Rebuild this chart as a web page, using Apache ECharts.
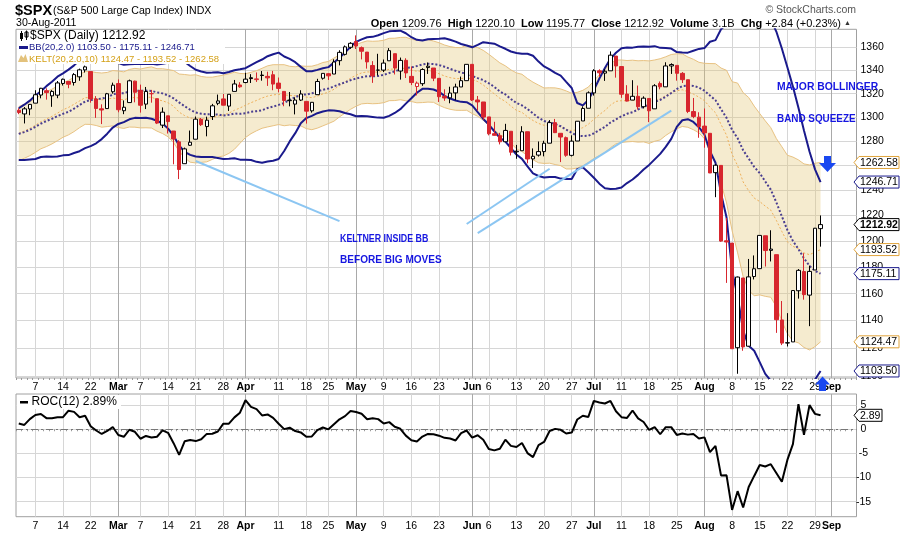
<!DOCTYPE html>
<html><head><meta charset="utf-8">
<script src="https://cdn.jsdelivr.net/npm/echarts@6/dist/echarts.min.js"></script>
<style>html,body{margin:0;padding:0;background:#fff}#c{width:900px;height:534px}</style>
</head><body><div id="c"></div>
<script>
// ---- trading days (month -> day numbers) ----
const febDays=[2,3,4,7,8,9,10,11,14,15,16,17,18,22,23,24,25,28];
const marDays=[1,2,3,4,7,8,9,10,11,14,15,16,17,18,21,22,23,24,25,28,29,30,31];
const aprDays=[1,4,5,6,7,8,11,12,13,14,15,18,19,20,21,25,26,27,28,29];
const mayDays=[2,3,4,5,6,9,10,11,12,13,16,17,18,19,20,23,24,25,26,27,31];
const junDays=[1,2,3,6,7,8,9,10,13,14,15,16,17,20,21,22,23,24,27,28,29,30];
const julDays=[1,5,6,7,8,11,12,13,14,15,18,19,20,21,22,25,26,27,28,29];
const augDays=[1,2,3,4,5,8,9,10,11,12,15,16,17,18,19,22,23,24,25,26,29,30];
const futureDates=['08-31','09-01','09-02','09-06','09-07','09-08'];

// ---- OHLC ----
const open=[1305.9,1302.8,1307.0,1311.9,1318.8,1322.5,1318.1,1318.7,1328.7,1330.4,1329.5,1334.4,1340.4,1338.9,1315.4,1307.1,1307.3,1321.6,
1328.6,1305.5,1312.4,1330.7,1322.7,1311.1,1319.9,1315.7,1293.4,1301.2,1288.5,1279.5,1261.6,1276.7,1281.7,1298.3,1292.2,1300.6,1311.8,1315.5,1309.4,1321.9,1327.4,
1329.5,1333.6,1332.0,1335.9,1334.8,1336.2,1329.0,1321.9,1314.0,1311.1,1314.5,1313.4,1305.4,1319.1,1333.2,1337.1,1336.8,1348.4,1353.9,1360.1,
1365.2,1359.8,1355.9,1344.2,1340.2,1340.2,1348.3,1354.5,1339.4,1348.7,1334.8,1326.1,1328.5,1342.4,1342.0,1333.1,1317.7,1316.4,1320.6,1325.7,1331.1,
1345.2,1314.6,1312.9,1300.3,1286.3,1284.6,1279.6,1288.3,1271.3,1272.2,1287.9,1265.5,1268.6,1271.5,1278.4,1295.5,1286.6,1283.0,1268.4,1280.2,1296.9,1307.6,
1320.6,1339.6,1337.6,1339.6,1352.4,1343.3,1319.6,1314.5,1317.7,1308.9,1315.9,1307.1,1328.7,1325.8,1343.8,1344.3,1337.4,1331.9,1304.8,1300.1,
1292.6,1286.6,1254.3,1260.2,1200.3,1198.5,1120.2,1171.8,1121.3,1172.9,1178.9,1204.2,1192.9,1189.6,1140.5,1123.6,1124.4,1162.2,1176.7,1158.9,1177.9,1209.76];
const high=[1307.6,1308.6,1311.0,1322.9,1324.9,1324.5,1323.0,1330.8,1332.9,1330.4,1337.6,1341.5,1344.1,1338.9,1317.9,1310.9,1320.6,1329.4,
1332.1,1314.2,1332.0,1331.1,1327.7,1325.7,1323.2,1315.7,1308.3,1301.2,1288.5,1280.9,1274.8,1288.9,1300.6,1299.4,1300.5,1311.3,1319.2,1319.7,1319.4,1331.7,1329.8,
1337.9,1336.7,1338.2,1339.4,1338.8,1339.5,1333.8,1321.9,1321.4,1316.8,1322.9,1313.4,1312.7,1332.7,1337.5,1337.6,1349.6,1357.5,1361.7,1364.6,
1370.6,1360.8,1355.9,1348.0,1354.4,1349.4,1359.4,1354.5,1351.1,1350.5,1343.3,1330.4,1341.8,1346.8,1342.0,1333.1,1323.7,1325.9,1328.5,1334.6,1345.2,
1345.2,1318.0,1312.9,1300.3,1296.2,1287.0,1294.5,1288.3,1277.0,1292.5,1287.9,1274.1,1279.8,1280.4,1297.6,1298.6,1286.6,1283.9,1284.9,1296.8,1309.2,1321.9,
1341.0,1340.9,1340.9,1356.5,1352.4,1343.3,1327.2,1331.5,1326.9,1317.7,1315.9,1328.1,1330.4,1347.0,1346.1,1344.3,1338.5,1331.9,1316.3,1304.2,
1307.4,1286.6,1261.2,1260.2,1218.1,1198.5,1172.9,1171.8,1186.3,1189.0,1204.5,1204.2,1208.5,1189.6,1154.5,1145.5,1162.4,1178.6,1190.7,1181.2,1210.3,1220.10];
const low=[1302.6,1294.8,1301.7,1311.9,1316.0,1314.9,1308.8,1316.1,1326.9,1324.6,1326.9,1331.0,1338.1,1312.3,1299.5,1294.3,1307.3,1320.0,
1304.2,1302.6,1312.4,1312.6,1303.9,1306.9,1312.3,1294.3,1291.0,1286.4,1261.1,1249.1,1261.6,1276.2,1281.7,1292.7,1284.1,1297.7,1310.2,1310.1,1305.3,1321.9,1325.0,
1328.9,1329.1,1330.0,1331.1,1326.6,1322.9,1321.1,1309.3,1309.2,1302.4,1313.7,1294.7,1303.9,1319.1,1332.0,1331.7,1336.8,1344.3,1352.9,1358.7,
1358.6,1349.5,1341.5,1329.2,1335.6,1338.6,1348.3,1336.4,1332.0,1333.4,1327.3,1318.5,1326.6,1336.9,1330.7,1312.9,1313.9,1311.8,1314.4,1325.7,1331.1,
1313.7,1305.6,1297.9,1284.9,1284.7,1277.4,1279.6,1268.3,1265.6,1272.2,1261.9,1258.1,1267.4,1267.6,1278.4,1286.8,1262.9,1267.2,1267.5,1280.2,1296.9,1307.6,
1318.3,1334.3,1330.9,1339.6,1333.7,1316.4,1313.3,1314.5,1306.5,1307.4,1295.9,1307.1,1323.7,1325.8,1336.9,1331.1,1329.1,1303.5,1299.2,1282.9,
1274.7,1254.0,1234.6,1199.5,1168.1,1119.3,1101.5,1118.0,1121.3,1170.7,1178.9,1180.5,1184.4,1131.0,1122.1,1121.1,1124.4,1156.3,1155.5,1135.9,1177.9,1195.77];
const close=[1304.03,1307.10,1310.87,1319.05,1324.57,1320.88,1321.87,1329.15,1332.32,1328.01,1336.32,1340.43,1343.01,1315.44,1307.40,1306.10,1319.88,1327.22,
1306.33,1308.44,1330.97,1321.15,1310.13,1321.82,1320.02,1295.11,1304.28,1296.39,1281.87,1256.88,1273.72,1279.21,1298.38,1293.77,1297.54,1309.66,1313.80,1310.19,1319.44,1328.26,1325.83,
1332.41,1332.87,1332.63,1335.54,1333.51,1328.17,1324.46,1314.16,1314.41,1314.52,1319.68,1305.14,1312.62,1330.36,1337.38,1335.25,1347.24,1355.66,1360.48,1363.61,
1361.22,1356.62,1347.32,1335.10,1340.20,1346.29,1357.16,1342.08,1348.65,1337.77,1329.47,1328.98,1340.68,1343.60,1333.27,1317.37,1316.28,1320.47,1325.69,1331.10,1345.20,
1314.55,1312.94,1300.16,1286.17,1284.94,1279.56,1289.00,1270.98,1271.83,1287.87,1265.42,1267.64,1271.50,1278.36,1295.52,1287.14,1283.50,1268.45,1280.10,1296.67,1307.41,1320.64,
1339.67,1337.88,1339.22,1353.22,1343.80,1319.49,1313.64,1317.72,1308.87,1316.14,1305.44,1326.73,1325.84,1343.80,1345.02,1337.43,1331.94,1304.89,1300.67,1292.28,
1286.94,1254.05,1260.34,1200.07,1199.38,1119.46,1172.53,1120.76,1172.64,1178.81,1204.49,1192.76,1193.89,1140.65,1123.53,1123.82,1162.35,1177.60,1159.27,1176.80,1210.08,1212.92];

// ---- Bollinger Bands (20,2.0) ----
const bbUp=[1307.6,1310.6,1314.0,1318.4,1322.1,1326.4,1330.2,1334.5,1337.4,1340.6,
1344.3,1348.8,1352.3,1353.0,1352.3,1349.8,1347.3,1347.4,1346.4,1344.9,
1345.3,1345.5,1345.4,1345.6,1345.8,1345.1,1345.7,1346.5,1347.5,1348.5,
1347.3,1343.8,1340.5,1339.0,1338.0,1338.1,1338.3,1337.5,1338.6,1340.1,
1340.9,1341.9,1344.6,1347.1,1349.4,1352.3,1354.0,1355.4,1352.0,1349.9,
1347.1,1343.0,1339.3,1339.2,1340.4,1341.8,1342.8,1346.7,1351.0,1355.6,
1360.5,1364.9,1367.1,1368.9,1369.3,1370.7,1372.6,1374.2,1374.6,1374.8,
1372.5,1369.0,1366.7,1366.1,1367.2,1367.5,1367.6,1368.1,1366.8,1365.1,
1363.0,1361.7,1360.1,1362.3,1364.6,1363.9,1363.3,1360.9,1358.8,1356.4,
1355.1,1354.5,1354.4,1352.7,1347.6,1343.4,1340.8,1337.8,1335.5,1330.1,
1324.8,1312.0,1310.0,1314.6,1323.0,1333.0,1342.0,1350.0,1355.3,1359.3,
1359.9,1359.8,1360.5,1360.9,1360.6,1361.1,1359.6,1359.4,1359.0,1355.9,
1355.5,1355.4,1357.1,1358.7,1359.4,1365.0,1366.4,1376.0,1380.5,1401.7,
1407.0,1412.6,1410.0,1400.0,1398.0,1393.0,1384.6,1374.0,1359.0,1342.6,
1326.0,1308.0,1289.0,1271.6,1257.0,1246.71];
const bbMid=[1286.1,1287.6,1289.5,1291.9,1294.6,1296.9,1298.7,1301.0,1302.9,1304.6,
1307.3,1310.3,1313.3,1314.5,1315.3,1315.8,1316.8,1319.4,1320.4,1320.4,
1321.8,1322.5,1322.4,1322.6,1322.3,1321.1,1320.2,1318.5,1316.0,1312.5,
1309.3,1306.3,1304.0,1303.0,1302.5,1302.6,1302.3,1301.5,1302.1,1303.1,
1302.9,1303.4,1304.6,1305.1,1305.9,1307.8,1309.0,1310.4,1312.0,1314.9,
1316.9,1319.0,1319.3,1320.2,1321.9,1323.3,1324.3,1326.2,1328.0,1329.6,
1331.5,1332.9,1334.1,1334.9,1334.8,1335.2,1336.1,1337.7,1339.1,1340.8,
1342.0,1342.5,1343.7,1345.1,1345.7,1345.5,1344.6,1343.1,1341.3,1339.6,
1338.0,1337.2,1335.1,1333.3,1331.6,1328.9,1325.8,1321.9,1319.3,1315.4,
1312.1,1310.0,1306.9,1303.2,1299.6,1296.9,1295.8,1294.3,1292.5,1289.6,
1287.0,1284.6,1284.3,1284.6,1286.6,1289.2,1291.9,1295.6,1298.3,1300.8,
1302.9,1304.3,1306.5,1308.9,1310.6,1313.1,1314.6,1317.4,1320.5,1323.9,
1326.5,1326.9,1326.6,1325.2,1322.5,1318.4,1314.4,1306.8,1299.5,1289.5,
1282.5,1272.6,1265.8,1259.0,1253.9,1247.2,1240.6,1230.5,1219.4,1208.7,
1200.2,1193.9,1186.8,1181.0,1177.2,1175.11];
const bbLow=[1264.6,1264.6,1265.0,1265.4,1267.1,1267.4,1267.2,1267.5,1268.4,1268.6,
1270.3,1271.8,1274.3,1276.0,1278.3,1281.8,1286.3,1291.4,1294.4,1295.9,
1298.3,1299.5,1299.4,1299.6,1298.8,1297.1,1294.7,1290.5,1284.5,1276.5,
1271.3,1268.8,1267.5,1267.0,1267.0,1267.1,1266.3,1265.5,1265.6,1266.1,
1264.9,1264.9,1264.6,1263.1,1262.4,1263.3,1264.0,1265.4,1272.0,1279.9,
1286.7,1295.0,1299.3,1301.2,1303.4,1304.8,1305.8,1305.7,1305.0,1303.6,
1302.5,1300.9,1301.1,1300.9,1300.3,1299.7,1299.6,1301.2,1303.6,1306.8,
1311.5,1316.0,1320.7,1324.1,1324.2,1323.5,1321.6,1318.1,1315.8,1314.1,
1313.0,1312.7,1310.1,1304.3,1298.6,1293.9,1288.3,1282.9,1279.8,1274.4,
1269.1,1265.5,1259.4,1253.7,1251.6,1250.4,1250.8,1250.8,1249.5,1249.1,
1249.2,1257.2,1258.6,1254.6,1250.2,1245.4,1241.8,1241.2,1241.3,1242.3,
1245.9,1248.8,1252.5,1256.9,1260.6,1265.1,1269.6,1275.4,1282.0,1291.9,
1297.5,1298.4,1296.1,1291.7,1285.6,1271.8,1262.4,1237.6,1218.5,1177.3,
1158.0,1132.6,1121.6,1118.0,1109.8,1101.4,1096.6,1087.0,1079.8,1074.8,
1074.4,1079.8,1084.6,1090.4,1097.4,1103.50];

// ---- Keltner Channels (20,2.0,10) ----
const kcUp=[1309.0,1311.0,1313.1,1315.8,1318.8,1321.6,1323.8,1326.5,1329.3,1331.3,
1334.0,1336.3,1339.1,1339.0,1338.1,1337.7,1338.2,1339.8,1339.4,1338.7,
1340.8,1341.7,1341.1,1342.2,1343.0,1341.4,1341.4,1340.7,1339.8,1336.8,
1336.4,1335.8,1336.2,1334.7,1334.1,1334.1,1335.0,1335.9,1337.0,1338.4,
1337.3,1337.1,1338.3,1339.7,1341.8,1343.9,1344.9,1344.9,1344.9,1343.5,
1343.1,1343.8,1343.5,1343.6,1344.9,1346.8,1347.7,1350.7,1353.3,1356.5,
1359.7,1362.3,1364.3,1365.7,1365.4,1365.6,1366.3,1368.0,1368.1,1368.8,
1368.9,1367.3,1366.2,1366.4,1366.8,1365.6,1364.1,1362.1,1360.7,1359.9,
1359.8,1361.9,1361.1,1359.8,1357.4,1354.0,1350.3,1346.5,1343.9,1340.4,
1337.8,1336.6,1332.9,1329.8,1327.3,1324.8,1325.0,1324.9,1324.0,1322.3,
1320.3,1321.1,1322.8,1325.6,1330.9,1336.2,1340.7,1345.7,1348.9,1349.0,
1348.5,1348.8,1348.3,1348.5,1348.2,1349.0,1350.1,1351.8,1353.8,1354.4,
1354.3,1351.6,1349.6,1347.0,1346.1,1345.9,1345.8,1342.0,1340.0,1330.2,
1329.0,1320.8,1316.7,1309.4,1303.1,1297.0,1291.3,1282.3,1275.5,1268.5,
1267.0,1264.7,1261.4,1260.6,1262.0,1262.58];
const kcMid=[1286.5,1288.5,1290.6,1293.3,1296.3,1298.6,1300.8,1303.5,1306.3,1308.3,
1311.0,1313.8,1316.6,1316.5,1315.6,1314.7,1315.2,1316.3,1315.4,1314.7,
1316.3,1316.7,1316.1,1316.7,1317.0,1314.9,1313.9,1312.2,1309.3,1304.3,
1301.4,1299.3,1299.2,1298.7,1298.6,1299.6,1301.0,1301.9,1303.5,1305.9,
1307.8,1310.1,1312.3,1314.2,1316.3,1317.9,1318.9,1319.4,1318.9,1318.5,
1318.1,1318.3,1317.0,1316.6,1317.9,1319.8,1321.2,1323.7,1326.8,1330.0,
1333.2,1335.8,1337.8,1338.7,1338.4,1338.6,1339.3,1341.0,1341.1,1341.8,
1341.4,1340.3,1339.2,1339.4,1339.8,1339.1,1337.1,1335.1,1333.7,1332.9,
1332.8,1333.9,1332.1,1330.3,1327.4,1323.5,1319.8,1316.0,1313.4,1309.4,
1305.8,1304.1,1300.4,1297.3,1294.8,1293.3,1293.5,1292.9,1292.0,1289.8,
1288.8,1289.6,1291.3,1294.1,1298.4,1302.2,1305.7,1310.2,1313.4,1314.0,
1314.0,1314.3,1313.8,1314.0,1313.2,1314.5,1315.6,1318.3,1320.8,1322.4,
1323.3,1321.6,1319.6,1317.0,1314.1,1308.4,1303.8,1294.0,1285.0,1269.2,
1260.0,1246.8,1239.7,1233.9,1231.1,1227.5,1224.3,1216.3,1207.5,1199.5,
1196.0,1194.2,1190.9,1189.6,1191.5,1193.52];
const kcLow=[1264.0,1266.0,1268.1,1270.8,1273.8,1275.6,1277.8,1280.5,1283.3,1285.3,
1288.0,1291.3,1294.1,1294.0,1293.1,1291.7,1292.2,1292.8,1291.4,1290.7,
1291.8,1291.7,1291.1,1291.2,1291.0,1288.4,1286.4,1283.7,1278.8,1271.8,
1266.4,1262.8,1262.2,1262.7,1263.1,1265.1,1267.0,1267.9,1270.0,1273.4,
1278.3,1283.1,1286.3,1288.7,1290.8,1291.9,1292.9,1293.9,1292.9,1293.5,
1293.1,1292.8,1290.5,1289.6,1290.9,1292.8,1294.7,1296.7,1300.3,1303.5,
1306.7,1309.3,1311.3,1311.7,1311.4,1311.6,1312.3,1314.0,1314.1,1314.8,
1313.9,1313.3,1312.2,1312.4,1312.8,1312.6,1310.1,1308.1,1306.7,1305.9,
1305.8,1305.9,1303.1,1300.8,1297.4,1293.0,1289.3,1285.5,1282.9,1278.4,
1273.8,1271.6,1267.9,1264.8,1262.3,1261.8,1262.0,1260.9,1260.0,1257.3,
1257.3,1258.1,1259.8,1262.6,1265.9,1268.2,1270.7,1274.7,1277.9,1279.0,
1279.5,1279.8,1279.3,1279.5,1278.2,1280.0,1281.1,1284.8,1287.8,1290.4,
1292.3,1291.6,1289.6,1287.0,1282.1,1270.9,1261.8,1246.0,1230.0,1208.2,
1191.0,1172.8,1162.7,1158.4,1159.1,1158.0,1157.3,1150.3,1139.5,1130.5,
1125.0,1123.7,1120.4,1118.6,1121.0,1124.47];

// ---- ROC(12) ----
const roc=[1.2,0.9,2.1,2.95,3.15,2.3,2.3,2.5,2.5,3.85,3.6,2.5,2.8,
0.64,-0.26,-0.98,-0.35,0.48,-1.18,-1.56,-0.10,-0.52,-1.96,-1.39,-1.71,-1.55,-0.24,-0.74,-2.88,-5.30,-2.50,-2.23,-2.45,-2.07,-0.96,-0.92,-0.47,1.16,1.16,2.46,3.43,
6.01,4.64,4.18,2.86,3.07,2.36,1.13,0.03,0.32,-0.37,-0.65,-1.56,-1.49,-0.19,0.36,-0.02,1.03,2.07,2.72,3.76,
3.56,3.20,2.09,2.30,2.10,1.20,1.48,0.51,0.10,-1.32,-2.28,-2.54,-1.51,-0.96,-1.04,-1.33,-1.78,-1.92,-2.32,-0.82,-0.26,
-1.74,-1.24,-2.17,-4.07,-4.37,-4.03,-2.15,-3.44,-3.68,-2.85,-4.93,-5.77,-3.27,-2.63,-0.36,0.08,-0.11,-0.87,-0.69,2.02,2.80,2.54,
5.87,5.54,5.33,5.86,3.73,2.51,2.35,3.88,2.25,1.50,-0.15,0.46,-1.03,0.44,0.43,-1.17,-0.88,-1.11,-0.99,-1.93,
-1.68,-4.72,-3.45,-9.55,-9.54,-16.70,-12.82,-16.20,-11.96,-9.66,-7.39,-7.70,-7.23,-9.04,-10.85,-6.35,-3.09,5.19,-1.13,5.00,3.19,2.89];

// ---- axis ticks ----
const tickDates=['02-07','02-14','02-22','03-01','03-07','03-14','03-21','03-28','04-01','04-11','04-18','04-25','05-02','05-09','05-16','05-23','06-01','06-06','06-13','06-20','06-27','07-01','07-11','07-18','07-25','08-01','08-08','08-15','08-22','08-29','09-01'];
const tickTexts=['7','14','22','Mar','7','14','21','28','Apr','11','18','25','May','9','16','23','Jun','6','13','20','27','Jul','11','18','25','Aug','8','15','22','29','Sep'];
const monthNames=['Mar','Apr','May','Jun','Jul','Aug','Sep'];
const priceTicks=[1100,1120,1140,1160,1180,1200,1220,1240,1260,1280,1300,1320,1340,1360];
const rocTicks=[5,0,-5,-10,-15];
// annotation trendlines: [startIndex, startValue, endIndex, endValue]
const annoLines=[[32,1263.8,58,1215.7],[81,1213.4,96,1257.5],[83,1206.3,118,1305.6]];
const volumeText='3.1B', dateText='30-Aug-2011';

// ---- build ----
const pad=n=>(n<10?'0':'')+n;
const dates=[];
[[2,febDays],[3,marDays],[4,aprDays],[5,mayDays],[6,junDays],[7,julDays],[8,augDays]].forEach(([m,ds])=>ds.forEach(d=>dates.push(pad(m)+'-'+pad(d))));
const cats=dates.concat(futureDates);
const labelMap={}; tickDates.forEach((d,i)=>labelMap[d]=tickTexts[i]);
const monthSet=new Set(monthNames);

const F="'Liberation Sans', Arial, Helvetica, sans-serif";
const RED='#d7262e', NAVY='#1a1a8c', NAVYDOT='#4a3e90', KCLINE='#e8c282', KCFILL='rgba(228,198,120,0.5)', KCMID='#efb05a';
const GRID='#d6d6d6', MGRID='#a9a9a9', LBLUE='#8cc6f2', ABLUE='#1616e0', ARROW='#1a48f0';

const candleData=close.map((c,i)=>{
  const prev=i?close[i-1]:open[0];
  const col=c>=prev?'#000':RED;
  const up=c>=open[i];
  const fill=up?'#ffffff':col;
  return {value:[open[i],c,low[i],high[i]],itemStyle:{color:fill,color0:fill,borderColor:col,borderColor0:col}};
});
const kcDiff=kcUp.map((u,i)=>+(u-kcLow[i]).toFixed(3));

const xLabel={interval:(i,v)=>labelMap[v]!==undefined,
  formatter:v=>{const t=labelMap[v]; if(t===undefined) return ''; return monthSet.has(t)?'{m|'+t+'}':t;},
  color:'#000',fontSize:10.5,fontFamily:F,margin:4,
  rich:{m:{fontWeight:'bold',fontSize:10.5,fontFamily:F,color:'#000'}}};
const vLines=tickDates.map(d=>({xAxis:d,lineStyle:{color:monthSet.has(labelMap[d])?MGRID:GRID,width:1,type:'solid'}}));

const chart=echarts.init(document.getElementById('c'),null,{renderer:'canvas',width:900,height:534});
const option={
  animation:false, backgroundColor:'#fff', textStyle:{fontFamily:F},
  grid:[
    {left:16,top:29.3,width:840.5,height:348.7,show:true,borderColor:'#a0a0a0',borderWidth:1,backgroundColor:'rgba(0,0,0,0)'},
    {left:16,top:394,width:840.5,height:122.7,show:true,borderColor:'#a0a0a0',borderWidth:1,backgroundColor:'rgba(0,0,0,0)'}
  ],
  xAxis:[
    {type:'category',gridIndex:0,data:cats,boundaryGap:true,axisLine:{show:false},
     axisTick:{show:true,interval:0,length:2,lineStyle:{color:'#9a9a9a'}},splitLine:{show:false},axisLabel:xLabel},
    {type:'category',gridIndex:1,data:cats,boundaryGap:true,axisLine:{show:false},
     axisTick:{show:true,interval:0,length:2,lineStyle:{color:'#9a9a9a'}},splitLine:{show:false},axisLabel:xLabel}
  ],
  yAxis:[
    {type:'log',logBase:10,gridIndex:0,min:1098.5,max:1376,position:'right',
     axisLine:{show:false},axisTick:{show:false},axisLabel:{show:false},splitLine:{show:false}},
    {type:'value',gridIndex:1,min:-18.1,max:7.3,position:'right',axisLine:{show:false},
     axisTick:{show:false,customValues:rocTicks},
     axisLabel:{customValues:rocTicks,align:'center',margin:7,color:'#000',fontSize:10.5,fontFamily:F},
     splitLine:{show:true,lineStyle:{color:GRID,width:1}}}
  ],
  series:[
    {name:'kcLow',type:'line',xAxisIndex:0,yAxisIndex:0,data:kcLow,stack:'kc',symbol:'none',silent:true,
     lineStyle:{color:KCLINE,width:1},z:2,
     markLine:{silent:true,symbol:'none',z:1,animation:false,label:{show:false},
       lineStyle:{color:GRID,width:1,type:'solid'},
       data:priceTicks.map(v=>({yAxis:v,label:{show:true,position:'end',formatter:String(v),color:'#000',fontSize:10.5,fontFamily:F,distance:4}})).concat(vLines)}},
    {name:'kcBand',type:'line',xAxisIndex:0,yAxisIndex:0,data:kcDiff,stack:'kc',symbol:'none',silent:true,
     lineStyle:{color:KCLINE,width:1},areaStyle:{color:KCFILL},z:2},
    {name:'kcMid',type:'line',xAxisIndex:0,yAxisIndex:0,data:kcMid,symbol:'none',silent:true,
     lineStyle:{color:KCMID,width:1,type:[2,2]},z:3},
    {name:'bbUp',type:'line',xAxisIndex:0,yAxisIndex:0,data:bbUp,symbol:'none',silent:true,lineStyle:{color:NAVY,width:2},z:4},
    {name:'bbLow',type:'line',xAxisIndex:0,yAxisIndex:0,data:bbLow,symbol:'none',silent:true,lineStyle:{color:NAVY,width:2},z:4},
    {name:'bbMid',type:'line',xAxisIndex:0,yAxisIndex:0,data:bbMid,symbol:'none',silent:true,lineStyle:{color:NAVYDOT,width:2,type:[2,2]},z:4},
    {name:'SPX',type:'candlestick',xAxisIndex:0,yAxisIndex:0,data:candleData,barWidth:4,silent:true,z:5,
     markLine:{silent:true,symbol:'none',z:8,animation:false,label:{show:false},lineStyle:{color:LBLUE,width:2,type:'solid'},
       data:annoLines.map(a=>[{coord:[a[0],a[1]]},{coord:[a[2],a[3]]}])}},
    {name:'ROC',type:'line',xAxisIndex:1,yAxisIndex:1,data:roc,symbol:'none',silent:true,lineStyle:{color:'#000',width:2},z:3,
     markLine:{silent:true,symbol:'none',z:1,animation:false,label:{show:false},lineStyle:{color:GRID,width:1,type:'solid'},
       data:vLines.concat([{yAxis:0,lineStyle:{color:'#777',width:1,type:[7,3,2,3]}}])}}
  ]
};
chart.setOption(option);

// ---- overlays (header, legends, annotations, value tags) ----
const n=close.length;
const last=a=>a[a.length-1];
const chg=close[n-1]-close[n-2];
const pct=chg/close[n-2]*100;
const f2=v=>v.toFixed(2);
const T=(x,y,text,font,fill,extra)=>Object.assign({type:'text',x:x,y:y,z:100,silent:true,style:{text:text,font:font,fill:fill||'#000',verticalAlign:'middle',align:'left'}},extra||{});
const g=[];
g.push(T(15,11,'$SPX','bold 14.5px '+F,'#000'));
g.push(T(53,11.5,'(S&P 500 Large Cap Index) INDX','10.6px '+F,'#000'));
g.push(T(16,23.5,dateText,'10.6px '+F,'#000'));
g.push(T(856,10,'\u00A9 StockCharts.com','10.5px '+F,'#555',{style:{text:'\u00A9 StockCharts.com',font:'10.5px '+F,fill:'#555',verticalAlign:'middle',align:'right'}}));
g.push({type:'text',x:851,y:23.5,z:100,silent:true,style:{
  text:'{b|Open} '+f2(last(open))+'  {b|High} '+f2(last(high))+'  {b|Low} '+f2(last(low))+'  {b|Close} '+f2(last(close))+'  {b|Volume} '+volumeText+'  {b|Chg} '+(chg>=0?'+':'')+f2(chg)+' ('+(pct>=0?'+':'')+f2(pct)+'%) {s|\u25B2}',
  fontSize:11,fontFamily:F,fill:'#000',align:'right',verticalAlign:'middle',
  rich:{b:{fontWeight:'bold',fontSize:11,fontFamily:F,fill:'#000'},s:{fontSize:7,fontFamily:F,fill:'#333'}}}});
// main legend
g.push({type:'rect',z:99,silent:true,shape:{x:17,y:30,width:208,height:34},style:{fill:'#fff'}});
g.push({type:'rect',z:100,silent:true,shape:{x:20,y:33,width:3,height:6},style:{fill:'#000'}});
g.push({type:'rect',z:100,silent:true,shape:{x:25,y:32,width:3,height:5},style:{fill:'#fff',stroke:'#000',lineWidth:1}});
g.push({type:'line',z:100,silent:true,shape:{x1:21.5,y1:31,x2:21.5,y2:41},style:{stroke:'#000',lineWidth:1}});
g.push({type:'line',z:100,silent:true,shape:{x1:26.5,y1:30.5,x2:26.5,y2:40},style:{stroke:'#000',lineWidth:1}});
g.push(T(30,36,'$SPX (Daily) '+f2(last(close)),'12px '+F,'#000'));
g.push({type:'rect',z:100,silent:true,shape:{x:19,y:46,width:9,height:3},style:{fill:NAVY}});
g.push(T(29,47.5,'BB(20,2.0) '+f2(last(bbLow))+' - '+f2(last(bbMid))+' - '+f2(last(bbUp)),'9.5px '+F,NAVY));
g.push({type:'polygon',z:100,silent:true,shape:{points:[[18,62],[21,55],[23.5,58],[25.5,54],[28,62]]},style:{fill:'#e3c27c'}});
g.push(T(29,59,'KELT(20,2.0,10) '+f2(last(kcLow))+' - '+f2(last(kcMid))+' - '+f2(last(kcUp)),'9.5px '+F,'#d4a017'));
// ROC legend
g.push({type:'rect',z:99,silent:true,shape:{x:17,y:395,width:104,height:14},style:{fill:'#fff'}});
g.push({type:'rect',z:100,silent:true,shape:{x:20,y:401,width:8,height:2.5},style:{fill:'#000'}});
g.push(T(31.5,402,'ROC(12) '+f2(last(roc))+'%','12px '+F,'#000'));
// annotations
g.push(T(340,239,'KELTNER INSIDE BB','bold 11.5px '+F,ABLUE,{scaleX:0.77}));
g.push(T(340,259.5,'BEFORE BIG MOVES','bold 11.5px '+F,ABLUE,{scaleX:0.875}));
g.push(T(777,87,'MAJOR BOLLINGER','bold 11.5px '+F,ABLUE,{scaleX:0.9}));
g.push(T(777,119,'BAND SQUEEZE','bold 11.5px '+F,ABLUE,{scaleX:0.86}));
g.push({type:'rect',z:100,silent:true,shape:{x:824,y:156,width:7,height:7.5},style:{fill:ARROW}});
g.push({type:'polygon',z:100,silent:true,shape:{points:[[819,163],[836,163],[827.5,172]]},style:{fill:ARROW}});
g.push({type:'polygon',z:100,silent:true,shape:{points:[[822.5,376.5],[815,384.5],[830,384.5]]},style:{fill:ARROW}});
g.push({type:'rect',z:100,silent:true,shape:{x:819,y:384,width:7,height:7},style:{fill:ARROW}});
// value tags
function tag(yIdx,v,color,bold,w,txt){
  const y=chart.convertToPixel({yAxisIndex:yIdx},v);
  const x0=854,x1=x0+w;
  g.push({type:'polygon',z:101,silent:true,shape:{points:[[x0,y],[x0+5,y-6],[x1,y-6],[x1,y+6],[x0+5,y+6]]},style:{fill:'#fff',stroke:color,lineWidth:1}});
  g.push({type:'text',x:x0+6,y:y+0.5,z:102,silent:true,style:{text:txt,font:(bold?'bold ':'')+'10.5px '+F,fill:'#000',verticalAlign:'middle',align:'left'}});
}
const TAGO='#e0a43c';
[[last(kcUp),TAGO,false],[last(bbUp),NAVY,false],[last(close),'#000',true],[last(kcMid),TAGO,false],[last(bbMid),NAVY,false],[last(kcLow),TAGO,false],[last(bbLow),NAVY,false]]
  .forEach(t=>tag(0,t[0],t[1],t[2],45,f2(t[0])));
tag(1,last(roc),'#000',false,28,f2(last(roc)));
chart.setOption({graphic:{elements:g}});
</script></body></html>
